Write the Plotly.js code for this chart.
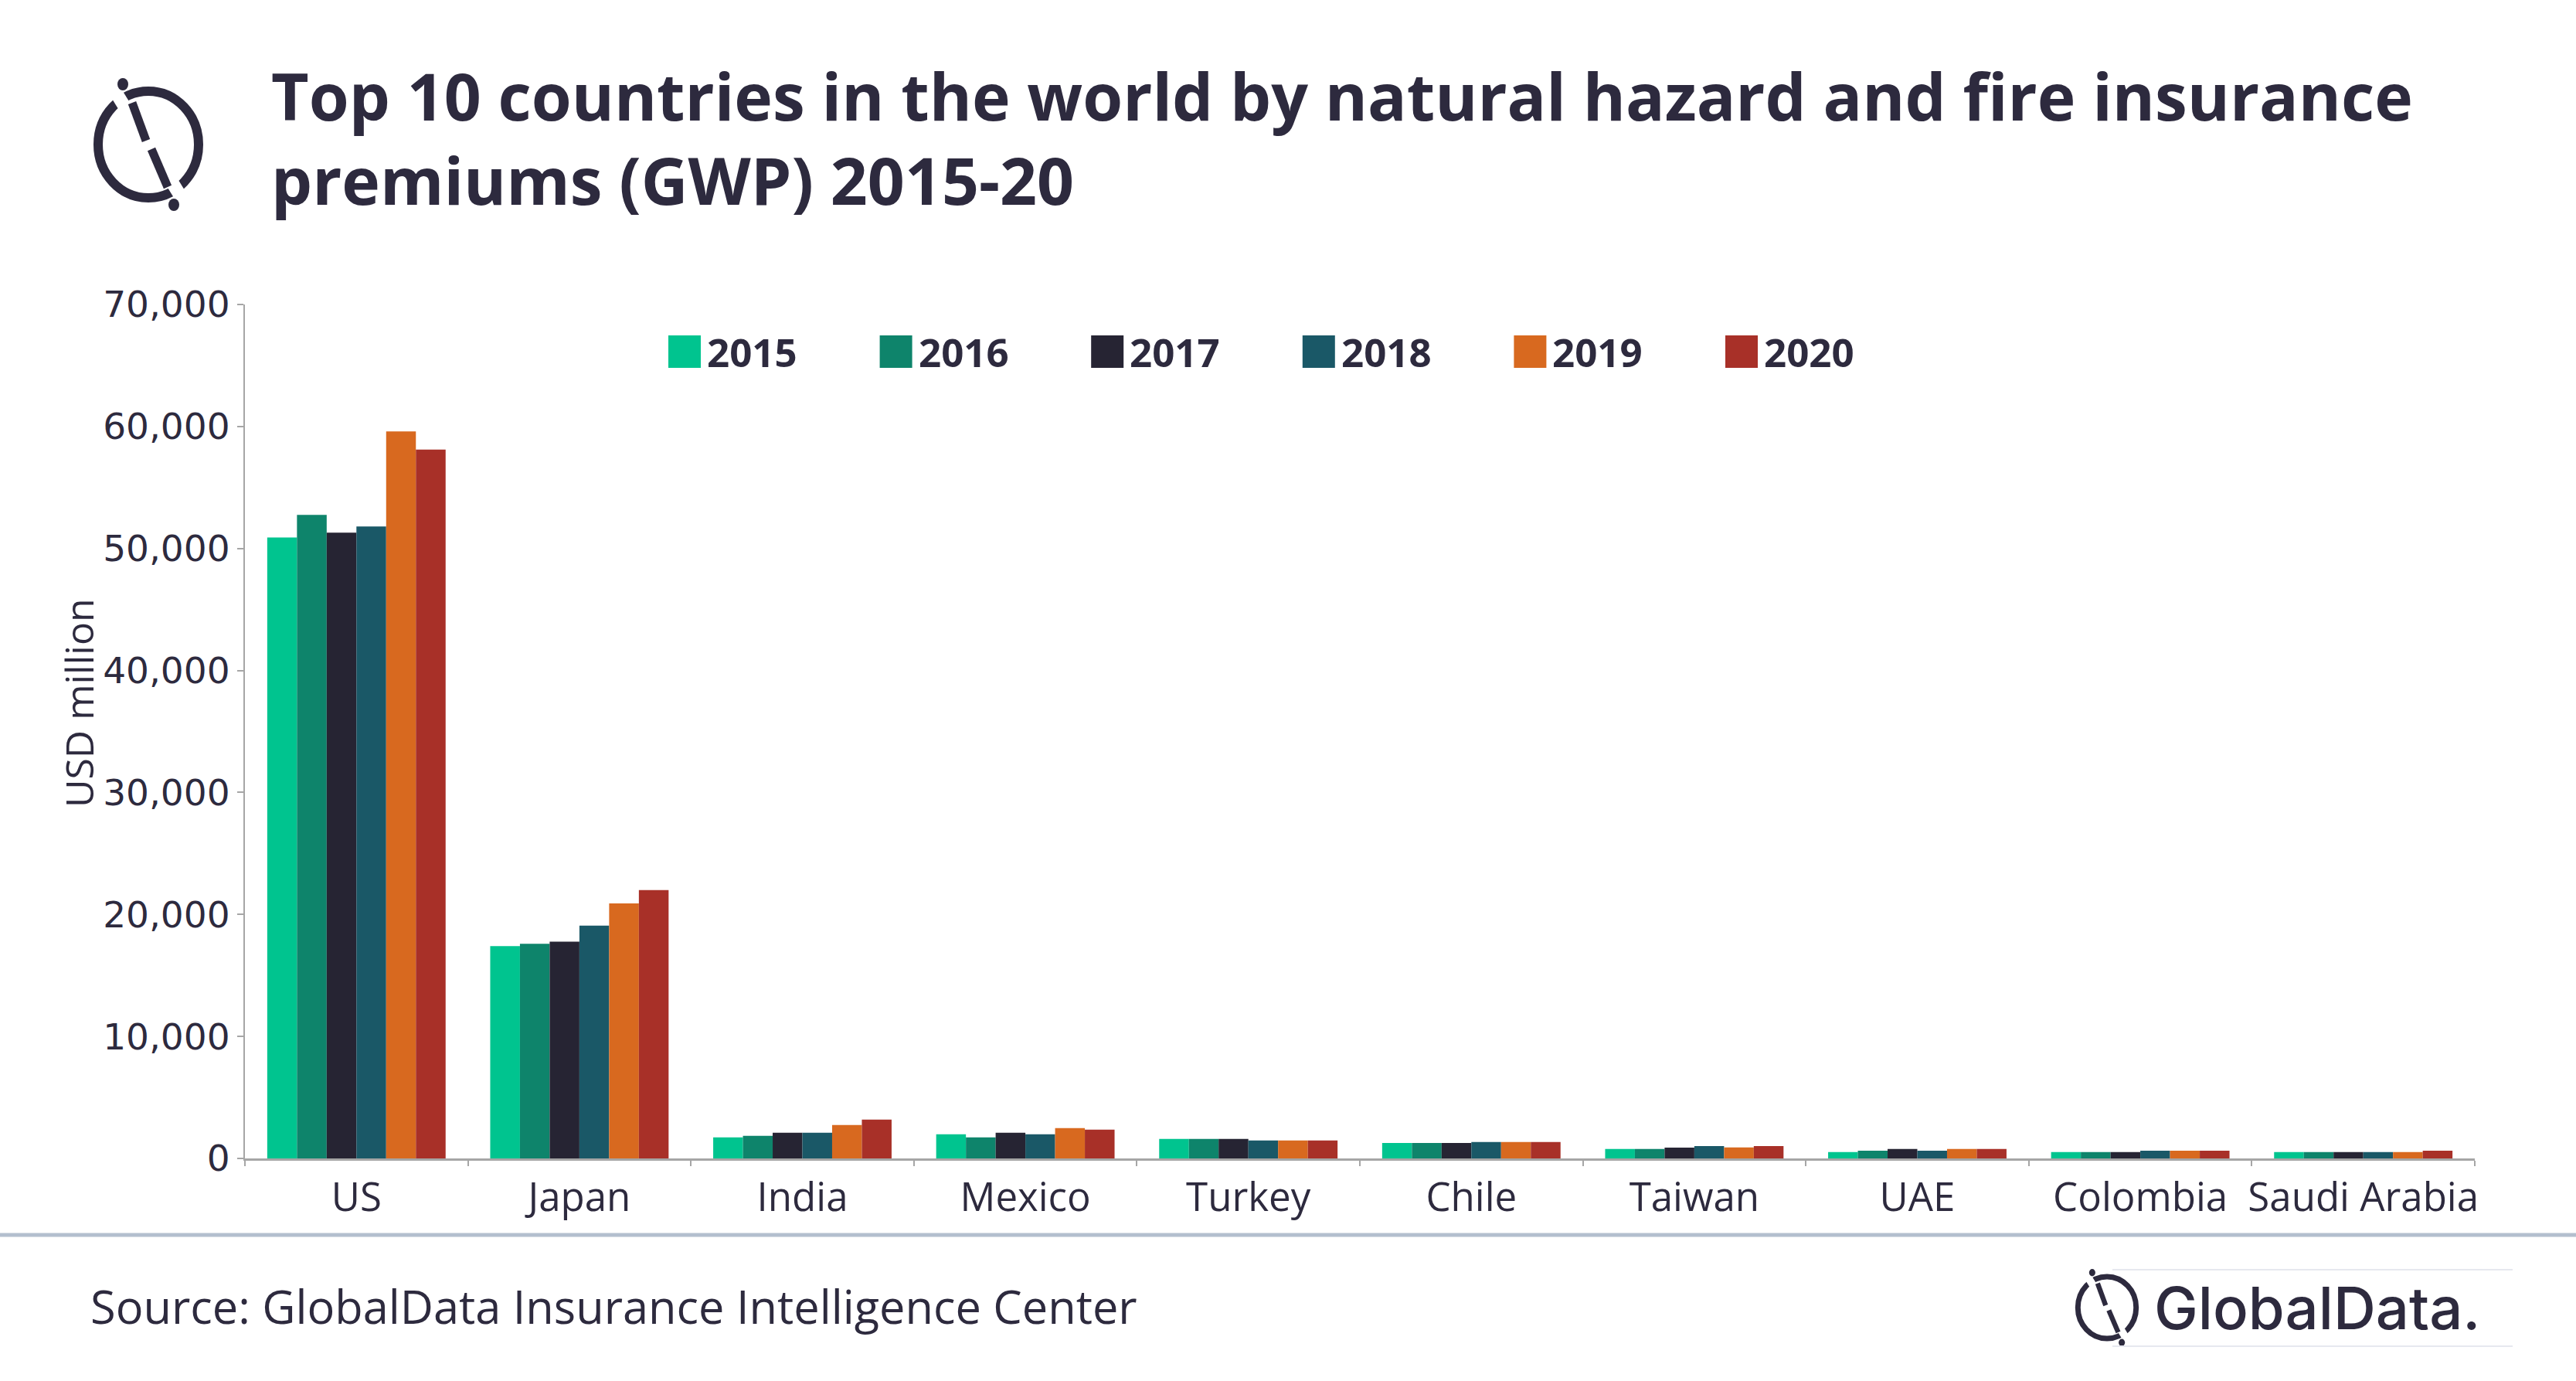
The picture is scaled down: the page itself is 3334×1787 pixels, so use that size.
<!DOCTYPE html>
<html>
<head>
<meta charset="utf-8">
<script src="https://cdn.plot.ly/plotly-3.0.1.min.js"></script>
<style>html,body{margin:0;padding:0;background:#fff;}</style>
</head>
<body>
<div id="chart" style="width:3334px;height:1787px;"></div>
<script>
// ---- Data ----
const categories = ['US','Japan','India','Mexico','Turkey','Chile','Taiwan','UAE','Colombia','Saudi Arabia'];
const years = ['2015','2016','2017','2018','2019','2020'];
const v2015 = [50900,17400,1730,1980,1600,1270,780,530,530,530];
const v2016 = [52750,17600,1860,1730,1600,1270,780,630,530,530];
const v2017 = [51300,17770,2110,2110,1600,1270,890,780,530,530];
const v2018 = [51800,19080,2110,1980,1480,1350,1010,630,630,530];
const v2019 = [59600,20900,2740,2490,1480,1350,910,780,630,530];
const v2020 = [58100,22000,3190,2360,1480,1350,1010,780,630,630];
const seriesValues = [v2015,v2016,v2017,v2018,v2019,v2020];
const yTickVals = [0,10000,20000,30000,40000,50000,60000,70000];
const titleLine1 = 'Top 10 countries in the world by natural hazard and fire insurance';
const titleLine2 = 'premiums (GWP) 2015-20';
const yTitle = 'USD million';
const sourceText = 'Source: GlobalData Insurance Intelligence Center';
const brandText = 'GlobalData.';

// ---- Styles ----
const colors = ['#00C48F','#0E846B','#262433','#1A5867','#D8691F','#A83028'];
const ink = '#2D2A3E';
const W = 3334, H = 1787;
const L = 317, T = 394, PW = 2886, PH = 1105;
const px = x => (x - L) / PW;
const py = y => (T + PH - y) / PH;

const traces = years.map((yr, i) => ({
  type: 'bar',
  name: yr,
  x: categories,
  y: seriesValues[i],
  marker: {color: colors[i], line: {width: 0}},
  hoverinfo: 'x+y+name'
}));

const shapes = [];
const annotations = [];

// Legend (custom, large swatches)
years.forEach((yr, i) => {
  const x0 = 865 + i * 273.6;
  shapes.push({type:'rect', xref:'paper', yref:'paper',
    x0: px(x0), x1: px(x0 + 42), y0: py(476), y1: py(434),
    fillcolor: colors[i], line:{width:0}});
  annotations.push({xref:'paper', yref:'paper', x: px(x0 + 48), y: py(455),
    xanchor:'left', yanchor:'middle', showarrow:false, text: yr,
    font:{family:'Open Sans', size:51, weight:700, color: ink}});
});

// Logo helper
function drawLogo(cx, cy, s) {
  const P = (dx, dy) => [px(cx + dx * s), py(cy + dy * s)];
  const line = (a, b, w, c) => {
    const p0 = P(a[0], a[1]), p1 = P(b[0], b[1]);
    shapes.push({type:'line', xref:'paper', yref:'paper', x0:p0[0], y0:p0[1], x1:p1[0], y1:p1[1],
      line:{color:c, width:w * s}});
  };
  const c0 = P(-65, -69), c1 = P(65, 69);
  shapes.push({type:'circle', xref:'paper', yref:'paper', x0:c0[0], y0:c1[1], x1:c1[0], y1:c0[1],
    line:{color:ink, width:12 * s}, fillcolor:'rgba(0,0,0,0)'});
  line([-27,-43],[-45,-72], 17, '#ffffff');
  line([27,43],[45,72], 17, '#ffffff');
  line([-21,-54],[-3,-5], 11, ink);
  line([4,6],[25,55], 11, ink);
  [[-33,-78],[33,78]].forEach(d => {
    const a = P(d[0]-7, d[1]-8), b = P(d[0]+7, d[1]+8);
    shapes.push({type:'circle', xref:'paper', yref:'paper', x0:a[0], y0:b[1], x1:b[0], y1:a[1],
      fillcolor: ink, line:{width:0}});
  });
}
drawLogo(192, 187, 1);
drawLogo(2727, 1692, 0.58);

// Separator line
shapes.push({type:'line', xref:'paper', yref:'paper', x0:px(0), x1:px(W), y0:py(1598), y1:py(1598),
  line:{color:'#B3BFCE', width:5}});
// faint box around brand
shapes.push({type:'line', xref:'paper', yref:'paper', x0:px(2734), x1:px(3252), y0:py(1643), y1:py(1643),
  line:{color:'#E6E8EF', width:2}});
shapes.push({type:'line', xref:'paper', yref:'paper', x0:px(2734), x1:px(3252), y0:py(1742), y1:py(1742),
  line:{color:'#E6E8EF', width:2}});

// Y axis title
annotations.push({xref:'paper', yref:'paper', x: px(102), y: py(910), xanchor:'center', yanchor:'middle',
  textangle:-90, showarrow:false, text: yTitle, font:{family:'Open Sans', size:50, color:ink}});
// Source
annotations.push({xref:'paper', yref:'paper', x: px(115), y: py(1689), xanchor:'left', yanchor:'middle',
  showarrow:false, text: sourceText, font:{family:'Open Sans', size:59.5, color:ink}});
// Brand
annotations.push({xref:'paper', yref:'paper', x: px(2786), y: py(1692), xanchor:'left', yanchor:'middle',
  showarrow:false, text: brandText, font:{family:'Inter', size:76, weight:500, color:ink}});

const layout = {
  width: W, height: H,
  margin: {l: L, r: W - L - PW, t: T, b: H - T - PH, pad: 0},
  paper_bgcolor: '#ffffff', plot_bgcolor: '#ffffff',
  barmode: 'group', bargap: 0.2, bargroupgap: 0,
  showlegend: false,
  title: {text: titleLine1 + '<br>' + titleLine2, xref:'container', yref:'container', x: 351/W, xanchor:'left',
    y: 1 - 156/H, yanchor:'middle', font:{family:'Open Sans', size:84, weight:700, color:ink}},
  xaxis: {type:'category', showline:true, linecolor:'#A6A6A6', linewidth:3, tickangle:0,
    ticks:'outside', tickson:'boundaries', ticklen:7, tickwidth:2, tickcolor:'#A6A6A6', ticklabelstandoff:4,
    tickfont:{family:'Open Sans', size:51, color:ink}, showgrid:false, zeroline:false, fixedrange:true},
  yaxis: {range:[0,70000], tickvals: yTickVals, tickformat:',d', showline:true, linecolor:'#A6A6A6', linewidth:2,
    ticks:'outside', ticklen:8, tickwidth:2, tickcolor:'#A6A6A6', showgrid:false, zeroline:false,
    tickfont:{family:'DejaVu Sans', size:47, color:ink}, fixedrange:true},
  shapes: shapes,
  annotations: annotations
};

Plotly.newPlot('chart', traces, layout, {displayModeBar:false, staticPlot:true});
</script>
</body>
</html>
